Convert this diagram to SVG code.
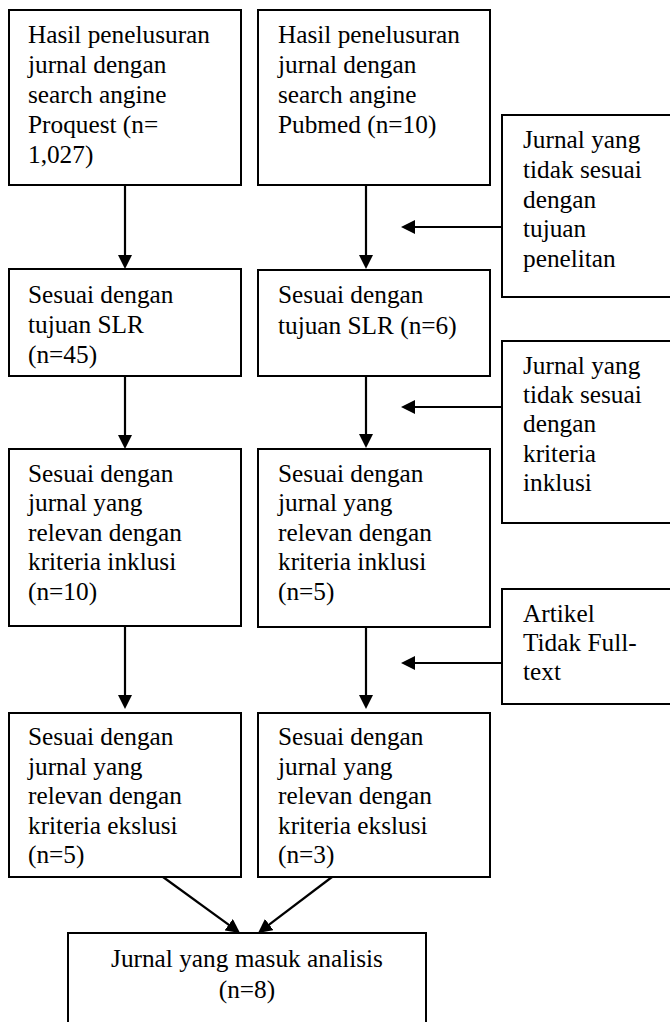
<svg xmlns="http://www.w3.org/2000/svg" width="670" height="1022" viewBox="0 0 670 1022">
  <defs>
    <marker id="arr" viewBox="0 0 14 14" refX="10" refY="7" markerWidth="14" markerHeight="14" markerUnits="userSpaceOnUse" orient="auto">
      <path d="M0,0 L14,7 L0,14 z" fill="#000"/>
    </marker>
    <style>
      .box { fill: #fff; stroke: #000; stroke-width: 2; }
      .t { font-family: "Liberation Serif", "Times New Roman", serif; font-size: 25.3px; fill: #000; }
      .c { text-anchor: middle; }
      .con { stroke: #000; stroke-width: 2.2; fill: none; marker-end: url(#arr); }
    </style>
  </defs>
  <rect width="670" height="1022" fill="#fff"/>

  <g id="n1">
    <rect class="box" x="9" y="10" width="232" height="175"/>
    <text class="t" x="28" y="43">Hasil penelusuran</text>
    <text class="t" x="28" y="73">jurnal dengan</text>
    <text class="t" x="28" y="103">search angine</text>
    <text class="t" x="28" y="133">Proquest (n=</text>
    <text class="t" x="28" y="163">1,027)</text>
  </g>
  <g id="n2">
    <rect class="box" x="258" y="10" width="232" height="175"/>
    <text class="t" x="278" y="43">Hasil penelusuran</text>
    <text class="t" x="278" y="73">jurnal dengan</text>
    <text class="t" x="278" y="103">search angine</text>
    <text class="t" x="278" y="133">Pubmed (n=10)</text>
  </g>
  <g id="s1">
    <rect class="box" x="502" y="115" width="190" height="182"/>
    <text class="t" x="523" y="148">Jurnal yang</text>
    <text class="t" x="523" y="178">tidak sesuai</text>
    <text class="t" x="523" y="208">dengan</text>
    <text class="t" x="523" y="237">tujuan</text>
    <text class="t" x="523" y="267">penelitan</text>
  </g>
  <g id="n3">
    <rect class="box" x="9" y="269" width="232" height="107"/>
    <text class="t" x="28" y="303">Sesuai dengan</text>
    <text class="t" x="28" y="333">tujuan SLR</text>
    <text class="t" x="28" y="363">(n=45)</text>
  </g>
  <g id="n4">
    <rect class="box" x="258" y="270" width="232" height="106"/>
    <text class="t" x="278" y="303">Sesuai dengan</text>
    <text class="t" x="278" y="334">tujuan SLR (n=6)</text>
  </g>
  <g id="s2">
    <rect class="box" x="502" y="341" width="190" height="182"/>
    <text class="t" x="523" y="374">Jurnal yang</text>
    <text class="t" x="523" y="403">tidak sesuai</text>
    <text class="t" x="523" y="432">dengan</text>
    <text class="t" x="523" y="462">kriteria</text>
    <text class="t" x="523" y="491">inklusi</text>
  </g>
  <g id="n5">
    <rect class="box" x="9" y="449" width="232" height="177"/>
    <text class="t" x="28" y="482">Sesuai dengan</text>
    <text class="t" x="28" y="511">jurnal yang</text>
    <text class="t" x="28" y="541">relevan dengan</text>
    <text class="t" x="28" y="570">kriteria inklusi</text>
    <text class="t" x="28" y="600">(n=10)</text>
  </g>
  <g id="n6">
    <rect class="box" x="258" y="449" width="232" height="178"/>
    <text class="t" x="278" y="482">Sesuai dengan</text>
    <text class="t" x="278" y="511">jurnal yang</text>
    <text class="t" x="278" y="541">relevan dengan</text>
    <text class="t" x="278" y="570">kriteria inklusi</text>
    <text class="t" x="278" y="600">(n=5)</text>
  </g>
  <g id="s3">
    <rect class="box" x="502" y="589" width="190" height="115"/>
    <text class="t" x="523" y="622">Artikel</text>
    <text class="t" x="523" y="651">Tidak Full-</text>
    <text class="t" x="523" y="680">text</text>
  </g>
  <g id="n7">
    <rect class="box" x="9" y="713" width="232" height="164"/>
    <text class="t" x="28" y="745">Sesuai dengan</text>
    <text class="t" x="28" y="775">jurnal yang</text>
    <text class="t" x="28" y="804">relevan dengan</text>
    <text class="t" x="28" y="834">kriteria ekslusi</text>
    <text class="t" x="28" y="863">(n=5)</text>
  </g>
  <g id="n8">
    <rect class="box" x="258" y="713" width="232" height="164"/>
    <text class="t" x="278" y="745">Sesuai dengan</text>
    <text class="t" x="278" y="775">jurnal yang</text>
    <text class="t" x="278" y="804">relevan dengan</text>
    <text class="t" x="278" y="834">kriteria ekslusi</text>
    <text class="t" x="278" y="863">(n=3)</text>
  </g>
  <g id="n9">
    <rect class="box" x="68" y="933" width="358" height="110"/>
    <text class="t c" x="247" y="967">Jurnal yang masuk analisis</text>
    <text class="t c" x="247" y="998">(n=8)</text>
  </g>

  <g id="connectors">
    <line class="con" x1="125" y1="185" x2="125" y2="265"/>
    <line class="con" x1="125" y1="376" x2="125" y2="445"/>
    <line class="con" x1="125" y1="626" x2="125" y2="705"/>
    <line class="con" x1="366" y1="185" x2="366" y2="265"/>
    <line class="con" x1="366" y1="376" x2="366" y2="444"/>
    <line class="con" x1="366" y1="627" x2="366" y2="705"/>
    <line class="con" x1="502" y1="227" x2="405" y2="227"/>
    <line class="con" x1="502" y1="407" x2="405" y2="407"/>
    <line class="con" x1="502" y1="663" x2="405" y2="663"/>
    <line class="con" x1="163" y1="877" x2="236.8" y2="930.6"/>
    <line class="con" x1="332" y1="877" x2="261.2" y2="930.6"/>
  </g>
</svg>
